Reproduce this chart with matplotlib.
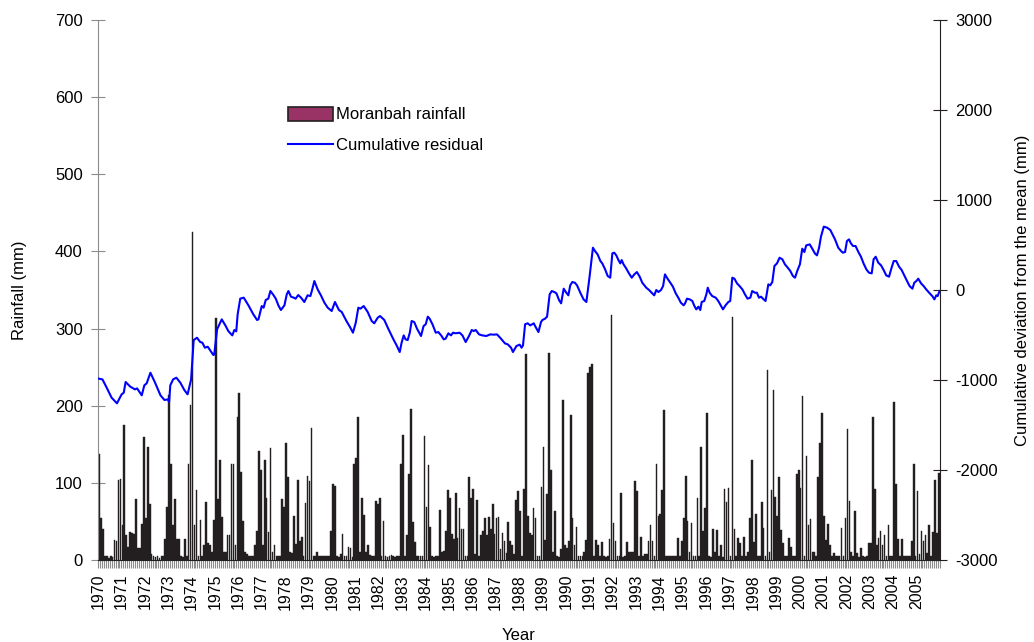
import matplotlib
matplotlib.use("Agg")
import matplotlib.pyplot as plt
from matplotlib.patches import Patch
from matplotlib.lines import Line2D
from matplotlib.ticker import MultipleLocator

plt.rcParams['font.family'] = ['Liberation Sans', 'DejaVu Sans']
plt.rcParams['axes.unicode_minus'] = False

# monthly rainfall (mm), Jan..Dec
years = list(range(1970, 2006))
rain = [
    [137, 55, 40, 5, 5, 3, 5, 4, 26, 25, 104, 105],       # 1970
    [45, 175, 32, 17, 36, 35, 34, 79, 16, 15, 47, 160],   # 1971
    [55, 146, 73, 8, 5, 4, 5, 3, 5, 5, 27, 69],           # 1972
    [214, 124, 45, 79, 27, 27, 5, 4, 27, 5, 125, 201],    # 1973
    [425, 45, 91, 5, 52, 5, 20, 75, 22, 19, 10, 52],      # 1974
    [314, 79, 130, 56, 10, 11, 32, 32, 124, 124, 20, 186],  # 1975
    [216, 114, 51, 10, 8, 5, 5, 5, 19, 38, 141, 117],     # 1976
    [20, 130, 81, 36, 145, 10, 19, 5, 5, 5, 79, 69],      # 1977
    [152, 107, 10, 9, 57, 21, 104, 25, 30, 5, 74, 109],   # 1978
    [103, 171, 5, 5, 10, 5, 5, 5, 5, 5, 5, 37],           # 1979
    [99, 96, 5, 4, 8, 34, 5, 5, 17, 15, 4, 124],          # 1980
    [132, 186, 10, 80, 58, 10, 19, 6, 5, 5, 76, 73],      # 1981
    [80, 5, 50, 5, 4, 5, 6, 5, 4, 5, 5, 125],             # 1982
    [162, 5, 32, 112, 196, 49, 23, 5, 5, 5, 5, 161],      # 1983
    [69, 123, 43, 5, 4, 5, 5, 65, 10, 12, 38, 91],        # 1984
    [81, 34, 27, 87, 29, 68, 40, 40, 5, 5, 107, 81],      # 1985
    [92, 8, 78, 5, 32, 38, 55, 32, 56, 40, 73, 34],       # 1986
    [55, 56, 14, 35, 25, 9, 49, 25, 20, 8, 78, 90],       # 1987
    [64, 5, 92, 267, 57, 35, 32, 67, 54, 5, 5, 95],       # 1988
    [146, 26, 86, 269, 117, 10, 63, 5, 4, 14, 207, 19],   # 1989
    [15, 25, 188, 54, 20, 43, 5, 5, 5, 10, 26, 243],      # 1990
    [250, 254, 5, 26, 19, 5, 24, 5, 4, 5, 27, 318],       # 1991
    [48, 25, 5, 5, 87, 4, 5, 24, 11, 11, 10, 102],        # 1992
    [89, 5, 30, 5, 8, 8, 25, 45, 25, 5, 124, 57],         # 1993
    [60, 91, 194, 5, 5, 5, 5, 5, 5, 29, 5, 25],           # 1994
    [54, 109, 50, 10, 48, 5, 5, 80, 5, 146, 37, 68],      # 1995
    [191, 5, 4, 40, 10, 39, 5, 19, 4, 92, 75, 94],        # 1996
    [5, 315, 40, 5, 29, 22, 5, 30, 5, 10, 54, 130],       # 1997
    [23, 60, 5, 5, 75, 42, 5, 246, 10, 91, 220, 82],      # 1998
    [57, 107, 39, 22, 5, 5, 28, 17, 5, 5, 111, 117],      # 1999
    [93, 213, 5, 135, 45, 53, 10, 11, 5, 108, 152, 190],  # 2000
    [57, 26, 47, 20, 5, 9, 5, 5, 5, 41, 5, 54],           # 2001
    [170, 76, 10, 5, 63, 9, 4, 16, 5, 4, 5, 22],          # 2002
    [22, 186, 92, 19, 29, 38, 19, 32, 5, 45, 5, 5],       # 2003
    [205, 98, 27, 5, 27, 5, 5, 5, 5, 25, 124, 5],         # 2004
    [89, 8, 38, 25, 32, 9, 45, 5, 36, 104, 35, 113],      # 2005
]

# cumulative residual (mm), vertices
resid_t = [
    1970.04, 1970.19, 1970.37, 1970.58, 1970.81, 1971.01, 1971.10, 1971.18, 1971.38, 1971.58,
    1971.67, 1971.87, 1971.98, 1972.08, 1972.24, 1972.44, 1972.67, 1972.84, 1972.98, 1973.04,
    1973.09, 1973.21, 1973.35, 1973.52, 1973.69, 1973.83, 1973.98, 1974.09, 1974.23, 1974.37,
    1974.46, 1974.57, 1974.69, 1974.93, 1974.97, 1975.09, 1975.17, 1975.29, 1975.46, 1975.57,
    1975.74, 1975.83, 1975.91, 1975.97, 1976.08, 1976.23, 1976.43, 1976.64, 1976.80, 1976.86,
    1977.00, 1977.08, 1977.17, 1977.28, 1977.37, 1977.48, 1977.60, 1977.71, 1977.82, 1977.97,
    1978.07, 1978.14, 1978.25, 1978.37, 1978.45, 1978.56, 1978.68, 1978.82, 1978.96, 1979.08,
    1979.16, 1979.25, 1979.39, 1979.53, 1979.68, 1979.82, 1979.99, 1980.13, 1980.30, 1980.42,
    1980.62, 1980.79, 1980.90, 1981.02, 1981.13, 1981.22, 1981.36, 1981.53, 1981.70, 1981.81,
    1981.96, 1982.06, 1982.24, 1982.41, 1982.63, 1982.78, 1982.90, 1982.98, 1983.07, 1983.15,
    1983.24, 1983.33, 1983.41, 1983.52, 1983.64, 1983.81, 1983.92, 1984.01, 1984.10, 1984.18,
    1984.30, 1984.44, 1984.55, 1984.67, 1984.78, 1984.86, 1984.98, 1985.09, 1985.18, 1985.29,
    1985.46, 1985.58, 1985.72, 1985.86, 1985.98, 1986.06, 1986.15, 1986.29, 1986.43, 1986.60,
    1986.77, 1986.92, 1987.06, 1987.23, 1987.40, 1987.52, 1987.66, 1987.74, 1987.89, 1988.03,
    1988.11, 1988.17, 1988.26, 1988.37, 1988.48, 1988.63, 1988.71, 1988.83, 1988.94, 1989.00,
    1989.11, 1989.20, 1989.31, 1989.40, 1989.51, 1989.60, 1989.71, 1989.80, 1989.91, 1990.00,
    1990.11, 1990.19, 1990.28, 1990.39, 1990.48, 1990.62, 1990.76, 1990.88, 1991.02, 1991.16,
    1991.25, 1991.36, 1991.48, 1991.56, 1991.68, 1991.79, 1991.90, 1991.99, 1992.07, 1992.16,
    1992.25, 1992.33, 1992.39, 1992.47, 1992.59, 1992.70, 1992.82, 1992.93, 1993.04, 1993.16,
    1993.27, 1993.44, 1993.56, 1993.67, 1993.78, 1993.87, 1993.96, 1994.07, 1994.16, 1994.24,
    1994.35, 1994.47, 1994.58, 1994.70, 1994.81, 1994.92, 1995.04, 1995.10, 1995.18, 1995.30,
    1995.41, 1995.50, 1995.58, 1995.67, 1995.75, 1995.81, 1995.92, 1996.01, 1996.07, 1996.15,
    1996.26, 1996.41, 1996.52, 1996.64, 1996.72, 1996.83, 1996.95, 1997.03, 1997.12, 1997.21,
    1997.32, 1997.43, 1997.55, 1997.66, 1997.77, 1997.89, 1997.97, 1998.09, 1998.17, 1998.26,
    1998.35, 1998.43, 1998.54, 1998.66, 1998.74, 1998.83, 1998.92, 1999.03, 1999.14, 1999.26,
    1999.37, 1999.49, 1999.60, 1999.71, 1999.80, 1999.91, 2000.01, 2000.11, 2000.20, 2000.28,
    2000.43, 2000.54, 2000.65, 2000.74, 2000.83, 2000.91, 2001.03, 2001.17, 2001.31, 2001.40,
    2001.51, 2001.65, 2001.77, 2001.85, 2001.94, 2002.02, 2002.11, 2002.19, 2002.28, 2002.39,
    2002.51, 2002.62, 2002.73, 2002.85, 2002.96, 2003.08, 2003.16, 2003.25, 2003.36, 2003.48,
    2003.59, 2003.70, 2003.82, 2003.93, 2004.02, 2004.13, 2004.25, 2004.36, 2004.47, 2004.59,
    2004.70, 2004.82, 2004.90, 2004.99, 2005.07, 2005.19, 2005.30, 2005.41, 2005.56, 2005.67,
    2005.76, 2005.84, 2005.90, 2005.98,
]
resid_v = [
    -985, -993, -1085, -1196, -1259, -1159, -1141, -1022, -1074, -1104,
    -1093, -1170, -1059, -1037, -919, -1030, -1170, -1222, -1215, -1244,
    -1059, -993, -974, -1030, -1111, -1159, -993, -556, -530, -578,
    -585, -641, -630, -722, -715, -437, -393, -326, -400, -456,
    -504, -444, -459, -270, -96, -85, -170, -270, -333, -326,
    -178, -196, -111, -96, -11, -48, -96, -170, -222, -170,
    -48, -11, -74, -85, -96, -56, -85, -133, -59, -67,
    7, 100, 7, -59, -141, -196, -233, -133, -222, -244,
    -344, -419, -474, -363, -196, -207, -178, -244, -344, -370,
    -307, -289, -333, -430, -548, -622, -689, -585, -504, -548,
    -556, -474, -344, -356, -430, -511, -400, -381, -296, -319,
    -381, -474, -467, -504, -548, -541, -481, -504, -474, -481,
    -474, -504, -578, -511, -444, -456, -444, -493, -504, -511,
    -493, -496, -493, -541, -593, -604, -641, -689, -622, -607,
    -641, -615, -381, -370, -393, -370, -411, -467, -356, -333,
    -319, -296, -48, -11, -22, -37, -111, -148, 15, -22,
    -59, 52, 89, 81, 52, -30, -104, -133, 156, 470,
    433, 396, 322, 296, 230, 156, 137, 407, 415, 385,
    333, 296, 333, 285, 237, 185, 137, 174, 200, 148,
    81, 26, 0, -30, -59, 0, -22, 0, 44, 174,
    126, 81, 37, -37, -85, -141, -170, -148, -96, -104,
    -122, -178, -215, -185, -222, -133, -122, -48, 26, -30,
    -67, -85, -122, -178, -215, -170, -133, -122, 137, 126,
    74, 44, 7, -48, -96, -85, -11, -30, -30, -85,
    -74, -96, -122, 63, 52, 89, 267, 296, 359, 341,
    285, 248, 211, 156, 137, 222, 285, 459, 422, 496,
    507, 459, 407, 385, 470, 593, 704, 693, 667, 619,
    563, 470, 433, 415, 422, 544, 563, 519, 489, 489,
    422, 370, 296, 230, 193, 185, 341, 370, 304, 274,
    222, 163, 148, 248, 322, 322, 259, 222, 163, 100,
    44, 15, 81, 100, 126, 74, 44, 7, -37, -67,
    -104, -59, -67, -11,
]

# month positions as decimal years
bar_x = []
bar_h = []
for y, vals in zip(years, rain):
    for m, v in enumerate(vals):
        bar_x.append(y + (m + 0.5) / 12)
        bar_h.append(v)

fig = plt.figure(figsize=(10.34, 6.42), dpi=100)
ax = fig.add_axes([0.0948, 0.1277, 0.8143, 0.8411])
ax2 = ax.twinx()

ax.bar(bar_x, bar_h, width=0.072, color='#231f20', edgecolor='#231f20',
       linewidth=0.3, zorder=2)
ax2.plot(resid_t, resid_v, color='#0000ff', lw=1.5, zorder=3)

ax.set_xlim(1970, 2006)
ax.set_ylim(0, 700)
ax2.set_ylim(-3000, 3000)

ax.set_xticks(years)
ax.set_xticklabels([str(y) for y in years], rotation=90, fontsize=11.5)
ax.xaxis.set_minor_locator(MultipleLocator(1 / 12))
ax.tick_params(axis='x', which='both', direction='out', length=6,
               color='#8c8c8c', width=0.8, pad=4)
ax.yaxis.set_major_locator(MultipleLocator(100))
ax.tick_params(axis='y', direction='inout', length=10, color='#8c8c8c',
               labelsize=12, pad=6)
ax2.yaxis.set_major_locator(MultipleLocator(1000))
ax2.tick_params(axis='y', direction='inout', length=10, color='#231f20',
                labelsize=12, pad=6)

for a in (ax, ax2):
    a.spines['top'].set_visible(False)
ax.spines['left'].set_color('#8c8c8c')
ax2.spines['left'].set_visible(False)
ax2.spines['bottom'].set_visible(False)
ax2.spines['right'].set_color('#231f20')
ax.spines['bottom'].set_color('#231f20')
ax.spines['right'].set_visible(False)

ax.set_ylabel('Rainfall (mm)', fontsize=12, labelpad=20)
ax2.set_ylabel('Cumulative deviation from the mean (mm)', fontsize=12, labelpad=12)
ax.set_xlabel('Year', fontsize=12, labelpad=13)

handles = [Patch(facecolor='#993366', edgecolor='#231f20', linewidth=1.2),
           Line2D([], [], color='#0000ff', lw=1.5)]
fig.legend(handles, ['Moranbah rainfall', 'Cumulative residual'],
           loc='upper left', bbox_to_anchor=(0.272, 0.844), frameon=False,
           fontsize=12, handlelength=2.7, handleheight=0.9, handletextpad=0.2,
           labelspacing=0.9, borderaxespad=0)

fig.savefig('out.png', dpi=100)
